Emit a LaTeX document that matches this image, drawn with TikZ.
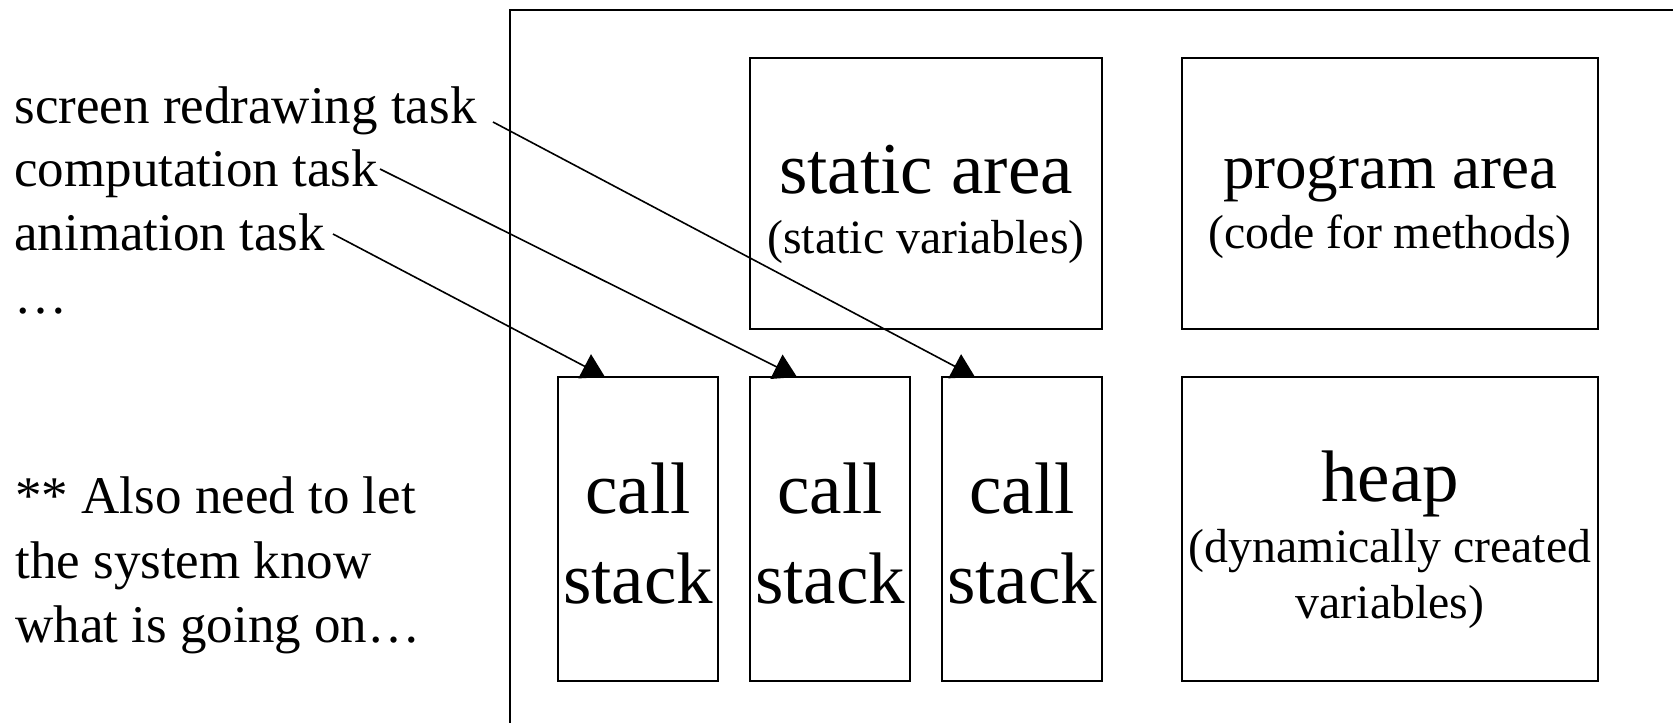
\documentclass[tikz,border=0pt]{standalone}
\usepackage{fontspec}
\setmainfont{Liberation Serif}
\usetikzlibrary{arrows.meta,calc}

\tikzset{
  region/.style={draw=black, line width=1pt, inner sep=0pt, outer sep=0pt},
  bigtxt/.style={anchor=base, inner sep=0pt, font=\fontsize{36.5}{44}\selectfont},
  midtxt/.style={anchor=base, inner sep=0pt, font=\fontsize{31.5}{38}\selectfont},
  smalltxt/.style={anchor=base, inner sep=0pt, font=\fontsize{23.9}{28}\selectfont},
  sidetxt/.style={anchor=base west, inner sep=0pt, font=\fontsize{26.5}{32}\selectfont},
  taskarrow/.style={draw=black, line width=0.8pt, -{Triangle[length=11.5pt,width=13.5pt]}},
}

\begin{document}
\begin{tikzpicture}[x=0.5pt, y=-0.5pt]
  \useasboundingbox (0,0) rectangle (1673,723);

  % memory frame: only its top and left edges fall inside the page
  \draw[line width=1pt] (1673,10) -- (510,10) -- (510,723);

  % memory regions
  \node[region, minimum width=176pt, minimum height=135.5pt] (static) at (926,193.5) {};
  \node[region, minimum width=208pt, minimum height=135.5pt] (program) at (1390,193.5) {};
  \node[region, minimum width=80pt, minimum height=152pt] (cs1) at (638,529) {};
  \node[region, minimum width=80pt, minimum height=152pt] (cs2) at (830,529) {};
  \node[region, minimum width=80pt, minimum height=152pt] (cs3) at (1022,529) {};
  \node[region, minimum width=208pt, minimum height=152pt] (heap) at (1390,529) {};

  % region labels
  \node[bigtxt] (staticT) at (926,193) {static area};
  \node[smalltxt] (staticS) at (926,253) {(static variables)};
  \node[midtxt] (programT) at (1390,188) {program area};
  \node[smalltxt] (programS) at (1390,248) {(code for methods)};
  \node[bigtxt] (heapT) at (1390,501) {heap};
  \node[smalltxt] (heapS1) at (1390,562) {(dynamically created};
  \node[smalltxt] (heapS2) at (1390,618) {variables)};
  \foreach \i/\cx in {1/638, 2/830, 3/1022} {
    \node[bigtxt] (call\i) at (\cx,513) {call};
    \node[bigtxt] (stack\i) at (\cx,603) {stack};
  }

  % task list
  \node[sidetxt] (tScreen) at (14,123) {screen redrawing task};
  \node[sidetxt] (tComp) at (14,186) {computation task};
  \node[sidetxt] (tAnim) at (14,250) {animation task};
  \node[sidetxt] (tMore) at (14,313) {…};

  % note
  \node[sidetxt] (note1) at (15,513) {** Also need to let};
  \node[sidetxt] (note2) at (15,578) {the system know};
  \node[sidetxt] (note3) at (15,642) {what is going on…};

  % each task owns a call stack
  \coordinate (fromScreen) at (493,122);
  \coordinate (fromComp) at (380,169);
  \coordinate (fromAnim) at (333,234);
  \draw[taskarrow] (fromAnim) -- ($(cs1.north west)+(47,0)$);
  \draw[taskarrow] (fromComp) -- ($(cs2.north west)+(47,0)$);
  \draw[taskarrow] (fromScreen) -- ($(cs3.north west)+(33,0)$);
\end{tikzpicture}
\end{document}
